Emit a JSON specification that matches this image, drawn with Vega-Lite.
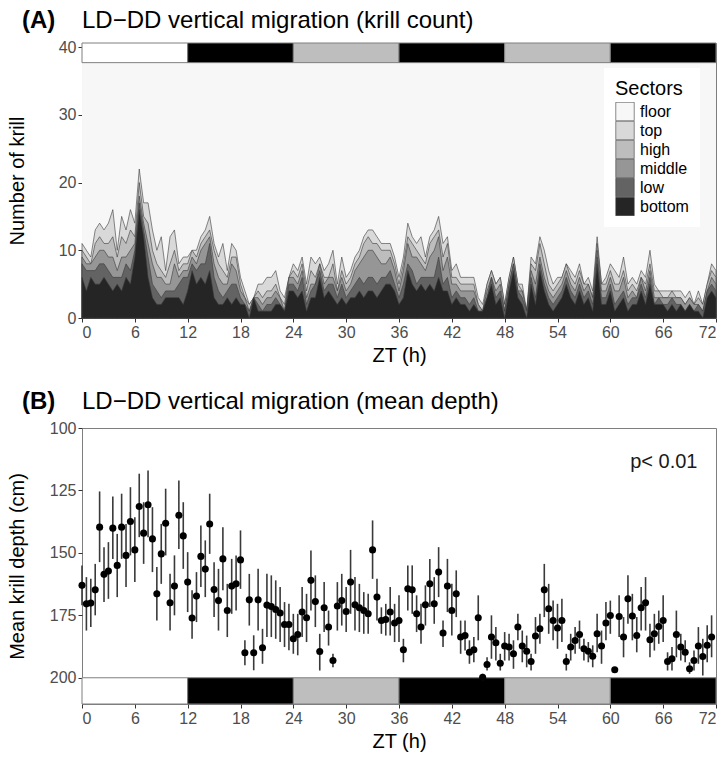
{
  "$schema": "https://vega.github.io/schema/vega-lite/v6.json",
  "background": "white",
  "padding": {"left": 6, "top": 8, "right": 8, "bottom": 4},
  "spacing": 23,
  "config": {
    "font": "Liberation Sans",
    "view": {"stroke": "#7f7f7f", "strokeWidth": 1},
    "axis": {"domain": false, "grid": false, "ticks": true, "tickColor": "#333333", "tickSize": 4, "tickWidth": 1, "labelColor": "#4d4d4d", "labelFont": "Liberation Sans", "labelFontSize": 16, "labelPadding": 2, "titleFont": "Liberation Sans", "titleFontSize": 20, "titleFontWeight": "normal", "titleColor": "#000000", "titlePadding": 5},
    "title": {"font": "Liberation Sans", "fontSize": 24, "fontWeight": "bold", "color": "#000000", "subtitleFont": "Liberation Sans", "subtitleFontSize": 24, "subtitleFontWeight": "normal", "subtitleColor": "#000000", "subtitlePadding": -24, "anchor": "start", "frame": "group", "dx": -60, "offset": 6},
    "legend": {"labelFont": "Liberation Sans", "titleFont": "Liberation Sans"}
  },
  "datasets": {
    "bars": [
      {"a": 0, "b": 12, "p": "L"},
      {"a": 12, "b": 24, "p": "D"},
      {"a": 24, "b": 36, "p": "S"},
      {"a": 36, "b": 48, "p": "D"},
      {"a": 48, "b": 60, "p": "S"},
      {"a": 60, "b": 72, "p": "D"}
    ],
    "count": [
      {"t":0,"B":6,"L":8,"M":9,"H":10,"T":11},{"t":0.5,"B":4,"L":7,"M":8,"H":9,"T":10},{"t":1,"B":6,"L":7,"M":8,"H":8,"T":9},{"t":1.5,"B":5,"L":7,"M":9,"H":11,"T":13},{"t":2,"B":5,"L":8,"M":10,"H":12,"T":14},{"t":2.5,"B":6,"L":8,"M":10,"H":11,"T":13},{"t":3,"B":5,"L":7,"M":9,"H":11,"T":14},{"t":3.5,"B":4,"L":6,"M":9,"H":12,"T":16},{"t":4,"B":5,"L":6,"M":7,"H":9,"T":10},{"t":4.5,"B":4,"L":6,"M":9,"H":12,"T":15},{"t":5,"B":6,"L":8,"M":9,"H":11,"T":13},{"t":5.5,"B":5,"L":7,"M":10,"H":13,"T":16},{"t":6,"B":9,"L":10,"M":11,"H":12,"T":14},{"t":6.5,"B":16,"L":17,"M":18,"H":20,"T":22},{"t":7,"B":12,"L":13,"M":14,"H":15,"T":17},{"t":7.5,"B":6,"L":9,"M":11,"H":14,"T":17},{"t":8,"B":3,"L":5,"M":8,"H":10,"T":13},{"t":8.5,"B":2,"L":4,"M":6,"H":8,"T":10},{"t":9,"B":2,"L":3,"M":6,"H":7,"T":12},{"t":9.5,"B":3,"L":4,"M":5,"H":6,"T":7},{"t":10,"B":3,"L":4,"M":5,"H":8,"T":12},{"t":10.5,"B":3,"L":4,"M":8,"H":10,"T":13},{"t":11,"B":3,"L":5,"M":6,"H":7,"T":8},{"t":11.5,"B":2,"L":6,"M":7,"H":8,"T":9},
      {"t":12,"B":4,"L":6,"M":7,"H":8,"T":9},{"t":12.5,"B":7,"L":8,"M":9,"H":10,"T":10},{"t":13,"B":5,"L":7,"M":8,"H":9,"T":10},{"t":13.5,"B":6,"L":8,"M":10,"H":11,"T":12},{"t":14,"B":5,"L":8,"M":11,"H":12,"T":13},{"t":14.5,"B":7,"L":11,"M":12,"H":13,"T":15},{"t":15,"B":3,"L":6,"M":8,"H":10,"T":11},{"t":15.5,"B":2,"L":4,"M":6,"H":8,"T":9},{"t":16,"B":2,"L":3,"M":5,"H":7,"T":11},{"t":16.5,"B":3,"L":4,"M":5,"H":6,"T":7},{"t":17,"B":2,"L":5,"M":8,"H":9,"T":11},{"t":17.5,"B":3,"L":5,"M":7,"H":9,"T":10},{"t":18,"B":2,"L":3,"M":4,"H":5,"T":6},{"t":18.5,"B":2,"L":2,"M":3,"H":3,"T":4},{"t":19,"B":0,"L":1,"M":1,"H":2,"T":2},{"t":19.5,"B":3,"L":3,"M":3,"H":3,"T":3},{"t":20,"B":1,"L":2,"M":3,"H":4,"T":5},{"t":20.5,"B":1,"L":1,"M":2,"H":3,"T":5},{"t":21,"B":1,"L":2,"M":3,"H":4,"T":6},{"t":21.5,"B":1,"L":2,"M":3,"H":4,"T":6},{"t":22,"B":2,"L":3,"M":4,"H":5,"T":7},{"t":22.5,"B":2,"L":2,"M":3,"H":3,"T":4},{"t":23,"B":1,"L":1,"M":1,"H":2,"T":3},{"t":23.5,"B":4,"L":5,"M":6,"H":6,"T":6},
      {"t":24,"B":4,"L":5,"M":6,"H":7,"T":8},{"t":24.5,"B":3,"L":4,"M":5,"H":6,"T":7},{"t":25,"B":4,"L":6,"M":7,"H":8,"T":9},{"t":25.5,"B":1,"L":2,"M":3,"H":4,"T":5},{"t":26,"B":3,"L":4,"M":5,"H":7,"T":9},{"t":26.5,"B":3,"L":5,"M":5,"H":6,"T":8},{"t":27,"B":6,"L":7,"M":8,"H":8,"T":9},{"t":27.5,"B":3,"L":4,"M":5,"H":6,"T":7},{"t":28,"B":4,"L":5,"M":6,"H":6,"T":8},{"t":28.5,"B":3,"L":5,"M":6,"H":8,"T":10},{"t":29,"B":2,"L":3,"M":4,"H":4,"T":5},{"t":29.5,"B":3,"L":5,"M":6,"H":7,"T":9},{"t":30,"B":2,"L":3,"M":4,"H":5,"T":6},{"t":30.5,"B":3,"L":4,"M":5,"H":6,"T":7},{"t":31,"B":3,"L":5,"M":7,"H":8,"T":9},{"t":31.5,"B":4,"L":6,"M":8,"H":9,"T":10},{"t":32,"B":3,"L":5,"M":9,"H":11,"T":12},{"t":32.5,"B":4,"L":6,"M":10,"H":12,"T":13},{"t":33,"B":4,"L":6,"M":10,"H":11,"T":13},{"t":33.5,"B":3,"L":5,"M":9,"H":11,"T":12},{"t":34,"B":4,"L":6,"M":8,"H":10,"T":11},{"t":34.5,"B":5,"L":6,"M":8,"H":10,"T":11},{"t":35,"B":5,"L":7,"M":9,"H":10,"T":11},{"t":35.5,"B":4,"L":5,"M":7,"H":8,"T":9},
      {"t":36,"B":2,"L":3,"M":4,"H":5,"T":6},{"t":36.5,"B":3,"L":5,"M":7,"H":8,"T":9},{"t":37,"B":7,"L":8,"M":11,"H":12,"T":14},{"t":37.5,"B":5,"L":7,"M":9,"H":11,"T":12},{"t":38,"B":4,"L":5,"M":9,"H":10,"T":11},{"t":38.5,"B":5,"L":6,"M":8,"H":9,"T":12},{"t":39,"B":4,"L":6,"M":7,"H":8,"T":9},{"t":39.5,"B":5,"L":6,"M":9,"H":11,"T":12},{"t":40,"B":4,"L":6,"M":10,"H":12,"T":13},{"t":40.5,"B":6,"L":9,"M":12,"H":13,"T":15},{"t":41,"B":4,"L":5,"M":7,"H":9,"T":11},{"t":41.5,"B":4,"L":6,"M":9,"H":11,"T":12},{"t":42,"B":2,"L":3,"M":5,"H":6,"T":7},{"t":42.5,"B":3,"L":4,"M":5,"H":6,"T":8},{"t":43,"B":2,"L":3,"M":4,"H":5,"T":6},{"t":43.5,"B":2,"L":3,"M":4,"H":5,"T":6},{"t":44,"B":1,"L":2,"M":4,"H":5,"T":6},{"t":44.5,"B":2,"L":3,"M":4,"H":5,"T":6},{"t":45,"B":1,"L":1,"M":2,"H":2,"T":3},{"t":45.5,"B":1,"L":1,"M":1,"H":1,"T":2},{"t":46,"B":3,"L":3,"M":4,"H":5,"T":5},{"t":46.5,"B":5,"L":6,"M":6,"H":7,"T":7},{"t":47,"B":2,"L":3,"M":4,"H":5,"T":5},{"t":47.5,"B":3,"L":4,"M":5,"H":6,"T":6},
      {"t":48,"B":0,"L":1,"M":1,"H":2,"T":2},{"t":48.5,"B":4,"L":5,"M":5,"H":6,"T":6},{"t":49,"B":7,"L":8,"M":8,"H":9,"T":9},{"t":49.5,"B":3,"L":4,"M":4,"H":5,"T":5},{"t":50,"B":2,"L":3,"M":4,"H":4,"T":5},{"t":50.5,"B":0,"L":1,"M":1,"H":1,"T":1},{"t":51,"B":5,"L":6,"M":7,"H":8,"T":9},{"t":51.5,"B":2,"L":3,"M":5,"H":7,"T":8},{"t":52,"B":7,"L":8,"M":9,"H":11,"T":12},{"t":52.5,"B":4,"L":5,"M":6,"H":8,"T":10},{"t":53,"B":2,"L":3,"M":4,"H":5,"T":7},{"t":53.5,"B":1,"L":2,"M":3,"H":4,"T":5},{"t":54,"B":2,"L":3,"M":4,"H":5,"T":6},{"t":54.5,"B":3,"L":4,"M":5,"H":6,"T":6},{"t":55,"B":5,"L":6,"M":7,"H":8,"T":8},{"t":55.5,"B":3,"L":4,"M":5,"H":6,"T":7},{"t":56,"B":2,"L":3,"M":4,"H":5,"T":6},{"t":56.5,"B":4,"L":5,"M":6,"H":7,"T":8},{"t":57,"B":2,"L":3,"M":4,"H":5,"T":5},{"t":57.5,"B":3,"L":4,"M":5,"H":5,"T":6},{"t":58,"B":1,"L":2,"M":3,"H":3,"T":4},{"t":58.5,"B":8,"L":9,"M":10,"H":11,"T":12},{"t":59,"B":2,"L":3,"M":4,"H":5,"T":5},{"t":59.5,"B":2,"L":3,"M":4,"H":5,"T":6},
      {"t":60,"B":4,"L":5,"M":6,"H":7,"T":8},{"t":60.5,"B":1,"L":2,"M":4,"H":5,"T":7},{"t":61,"B":2,"L":3,"M":4,"H":5,"T":6},{"t":61.5,"B":3,"L":4,"M":6,"H":7,"T":9},{"t":62,"B":1,"L":2,"M":3,"H":4,"T":5},{"t":62.5,"B":2,"L":3,"M":4,"H":5,"T":6},{"t":63,"B":2,"L":3,"M":3,"H":4,"T":5},{"t":63.5,"B":4,"L":5,"M":6,"H":6,"T":7},{"t":64,"B":2,"L":3,"M":4,"H":5,"T":6},{"t":64.5,"B":5,"L":6,"M":7,"H":8,"T":10},{"t":65,"B":2,"L":2,"M":3,"H":4,"T":5},{"t":65.5,"B":2,"L":3,"M":3,"H":4,"T":4},{"t":66,"B":2,"L":2,"M":3,"H":3,"T":4},{"t":66.5,"B":1,"L":2,"M":3,"H":3,"T":4},{"t":67,"B":2,"L":3,"M":3,"H":4,"T":4},{"t":67.5,"B":1,"L":2,"M":3,"H":3,"T":4},{"t":68,"B":2,"L":2,"M":3,"H":3,"T":4},{"t":68.5,"B":1,"L":1,"M":2,"H":2,"T":3},{"t":69,"B":2,"L":2,"M":3,"H":3,"T":4},{"t":69.5,"B":1,"L":1,"M":2,"H":2,"T":2},{"t":70,"B":1,"L":2,"M":2,"H":3,"T":4},{"t":70.5,"B":0,"L":1,"M":1,"H":2,"T":2},{"t":71,"B":3,"L":4,"M":4,"H":5,"T":5},{"t":71.5,"B":4,"L":5,"M":6,"H":7,"T":8},{"t":72,"B":3,"L":4,"M":5,"H":6,"T":7}
    ],
    "depth": [
      {"t":0,"d":163,"lo":155,"hi":171},{"t":0.5,"d":170.4,"lo":159.7,"hi":181.1},{"t":1,"d":170.1,"lo":160.4,"hi":179.7},{"t":1.5,"d":164.8,"lo":154.4,"hi":175},{"t":2,"d":139.7,"lo":125.4,"hi":153.7},{"t":2.5,"d":158.6,"lo":147.7,"hi":169.7},{"t":3,"d":157.3,"lo":145.7,"hi":168.4},{"t":3.5,"d":140.1,"lo":127.4,"hi":152.4},{"t":4,"d":155,"lo":142.4,"hi":167.7},{"t":4.5,"d":139.7,"lo":126.3,"hi":152.4},{"t":5,"d":151,"lo":138.4,"hi":163.7},{"t":5.5,"d":137.4,"lo":123.7,"hi":151},{"t":6,"d":148.8,"lo":135.7,"hi":161.7},{"t":6.5,"d":131.4,"lo":118.3,"hi":143.7},{"t":7,"d":142.1,"lo":129.7,"hi":154.4},{"t":7.5,"d":130.7,"lo":117,"hi":143.7},{"t":8,"d":144.4,"lo":131.7,"hi":157.7},{"t":8.5,"d":166.4,"lo":155.7,"hi":177.1},{"t":9,"d":150.4,"lo":138.4,"hi":162.4},{"t":9.5,"d":138.1,"lo":124.3,"hi":151},{"t":10,"d":170,"lo":158.4,"hi":181.1},{"t":10.5,"d":163.3,"lo":151,"hi":175},{"t":11,"d":134.9,"lo":121,"hi":148.4},{"t":11.5,"d":143.2,"lo":129.7,"hi":156.4},
      {"t":12,"d":161.7,"lo":149.7,"hi":173.7},{"t":12.5,"d":176.1,"lo":165,"hi":184.4},{"t":13,"d":167.3,"lo":157.7,"hi":177.7},{"t":13.5,"d":151.4,"lo":139,"hi":163.7},{"t":14,"d":156.5,"lo":145,"hi":167.7},{"t":14.5,"d":138.4,"lo":126.3,"hi":150.4},{"t":15,"d":164.7,"lo":153.7,"hi":175.7},{"t":15.5,"d":169.1,"lo":156.4,"hi":181.1},{"t":16,"d":152.4,"lo":139.7,"hi":165},{"t":16.5,"d":173.1,"lo":162.4,"hi":183.7},{"t":17,"d":163.3,"lo":152.4,"hi":174.4},{"t":17.5,"d":162.4,"lo":151,"hi":173.1},{"t":18,"d":152.8,"lo":141,"hi":164.4},{"t":18.5,"d":190,"lo":185,"hi":195},{"t":19,"d":168.8,"lo":158.4,"hi":179.1},{"t":19.5,"d":190,"lo":183,"hi":197},{"t":20,"d":168.8,"lo":156.4,"hi":181.1},{"t":20.5,"d":188,"lo":180.4,"hi":194.4},{"t":21,"d":170.9,"lo":158.4,"hi":183.7},{"t":21.5,"d":171.5,"lo":159,"hi":183.7},{"t":22,"d":172.7,"lo":161,"hi":184.4},{"t":22.5,"d":174.1,"lo":163.7,"hi":185.7},{"t":23,"d":178.7,"lo":169.7,"hi":187.7},{"t":23.5,"d":178.7,"lo":170.4,"hi":189},
      {"t":24,"d":184.4,"lo":174.4,"hi":190.4},{"t":24.5,"d":182.7,"lo":174.4,"hi":191},{"t":25,"d":173.7,"lo":163.7,"hi":183.7},{"t":25.5,"d":176,"lo":166.4,"hi":185.7},{"t":26,"d":161,"lo":149,"hi":173.1},{"t":26.5,"d":169.5,"lo":159,"hi":179.7},{"t":27,"d":189.5,"lo":182.4,"hi":197.1},{"t":27.5,"d":172,"lo":161.7,"hi":181.7},{"t":28,"d":179.7,"lo":173.1,"hi":187.1},{"t":28.5,"d":193.1,"lo":190.4,"hi":195.8},{"t":29,"d":171.3,"lo":161.7,"hi":181.1},{"t":29.5,"d":169.1,"lo":158.4,"hi":179.1},{"t":30,"d":173.5,"lo":163.7,"hi":181.7},{"t":30.5,"d":161.7,"lo":148.8,"hi":174.4},{"t":31,"d":170.8,"lo":159.7,"hi":181.1},{"t":31.5,"d":172,"lo":162.4,"hi":181.7},{"t":32,"d":173.1,"lo":165.7,"hi":182.4},{"t":32.5,"d":174.4,"lo":166.4,"hi":182.4},{"t":33,"d":148.8,"lo":137,"hi":160.4},{"t":33.5,"d":167.7,"lo":160.4,"hi":177.1},{"t":34,"d":177.1,"lo":171.8,"hi":182.4},{"t":34.5,"d":176.7,"lo":170.4,"hi":183.1},{"t":35,"d":173.7,"lo":163.7,"hi":183.1},{"t":35.5,"d":178.1,"lo":170.4,"hi":185.7},
      {"t":36,"d":177.1,"lo":167,"hi":185.7},{"t":36.5,"d":188.8,"lo":184.4,"hi":193.8},{"t":37,"d":164.4,"lo":155,"hi":173.1},{"t":37.5,"d":164.8,"lo":155,"hi":174.4},{"t":38,"d":174.4,"lo":167,"hi":181.7},{"t":38.5,"d":179.7,"lo":170.4,"hi":186.4},{"t":39,"d":170.8,"lo":163,"hi":179.1},{"t":39.5,"d":162.4,"lo":152.4,"hi":171.7},{"t":40,"d":170.4,"lo":159.7,"hi":178.4},{"t":40.5,"d":157.7,"lo":147.7,"hi":167.7},{"t":41,"d":182.1,"lo":177.1,"hi":187.7},{"t":41.5,"d":163.3,"lo":152.4,"hi":173.7},{"t":42,"d":173.1,"lo":162.4,"hi":183.1},{"t":42.5,"d":166.4,"lo":157,"hi":175.7},{"t":43,"d":183.7,"lo":177.1,"hi":190.4},{"t":43.5,"d":183.1,"lo":177.1,"hi":189.1},{"t":44,"d":189.8,"lo":185,"hi":194.4},{"t":44.5,"d":188.8,"lo":183.7,"hi":193.8},{"t":45,"d":176,"lo":167,"hi":185},{"t":45.5,"d":199.8,"lo":198.4,"hi":201.1},{"t":46,"d":194.7,"lo":191.8,"hi":197.1},{"t":46.5,"d":183.7,"lo":175,"hi":192.4},{"t":47,"d":186,"lo":179.7,"hi":193.1},{"t":47.5,"d":194.2,"lo":190.4,"hi":197.1},
      {"t":48,"d":187.3,"lo":181.7,"hi":193.1},{"t":48.5,"d":187.7,"lo":182.4,"hi":193.1},{"t":49,"d":190.4,"lo":185,"hi":196.4},{"t":49.5,"d":179.7,"lo":174.4,"hi":185},{"t":50,"d":187.3,"lo":181.1,"hi":193.8},{"t":50.5,"d":189.4,"lo":183.1,"hi":195.8},{"t":51,"d":193.5,"lo":190.4,"hi":197.1},{"t":51.5,"d":183.3,"lo":175.7,"hi":190.4},{"t":52,"d":180.4,"lo":174.4,"hi":186.4},{"t":52.5,"d":164.8,"lo":154.4,"hi":175.7},{"t":53,"d":172.4,"lo":162.4,"hi":182.4},{"t":53.5,"d":177.1,"lo":169.1,"hi":185},{"t":54,"d":180.1,"lo":170.4,"hi":188.4},{"t":54.5,"d":177.1,"lo":168.4,"hi":185.7},{"t":55,"d":193.5,"lo":190.4,"hi":197.1},{"t":55.5,"d":187.7,"lo":182.4,"hi":193.1},{"t":56,"d":185.1,"lo":179.7,"hi":190.4},{"t":56.5,"d":182.7,"lo":177.1,"hi":188.4},{"t":57,"d":188.4,"lo":184.4,"hi":193.1},{"t":57.5,"d":189.4,"lo":185.7,"hi":193.8},{"t":58,"d":191.4,"lo":187,"hi":195.8},{"t":58.5,"d":182.4,"lo":174.4,"hi":189.8},{"t":59,"d":187.3,"lo":181.1,"hi":194.4},{"t":59.5,"d":178.1,"lo":169.7,"hi":185},
      {"t":60,"d":175.1,"lo":169.1,"hi":182.4},{"t":60.5,"d":196.8,"lo":196,"hi":197.6},{"t":61,"d":175.5,"lo":167,"hi":183.7},{"t":61.5,"d":183.7,"lo":175.7,"hi":191.8},{"t":62,"d":168.4,"lo":159,"hi":178.4},{"t":62.5,"d":175.3,"lo":166.4,"hi":185},{"t":63,"d":183.1,"lo":175.7,"hi":189.8},{"t":63.5,"d":172,"lo":163.7,"hi":181.1},{"t":64,"d":170,"lo":159.7,"hi":181.1},{"t":64.5,"d":184.8,"lo":178.4,"hi":191.8},{"t":65,"d":182.4,"lo":174.4,"hi":189.1},{"t":65.5,"d":179.5,"lo":173.1,"hi":186.4},{"t":66,"d":177.1,"lo":167,"hi":185.7},{"t":66.5,"d":193.5,"lo":189.8,"hi":197.1},{"t":67,"d":192.4,"lo":187.7,"hi":197.1},{"t":67.5,"d":182.7,"lo":173.1,"hi":191.8},{"t":68,"d":187.7,"lo":182.4,"hi":193.1},{"t":68.5,"d":189.8,"lo":185,"hi":193.8},{"t":69,"d":196.4,"lo":193.8,"hi":198.4},{"t":69.5,"d":193.1,"lo":189.1,"hi":197.1},{"t":70,"d":187.3,"lo":179.7,"hi":194.4},{"t":70.5,"d":191.5,"lo":184.4,"hi":199.1},{"t":71,"d":187,"lo":179,"hi":193.8},{"t":71.5,"d":183.7,"lo":175,"hi":191.8}
    ]
  },
  "vconcat": [
    {
      "width": 634,
      "height": 275,
      "title": {"text": "(A)", "subtitle": "\u200b\u00a0\u00a0\u00a0\u00a0\u00a0\u00a0\u00a0\u00a0\u00a0LD\u2212DD vertical migration (krill count)"},
      "data": {"name": "count"},
      "encoding": {
        "x": {"field": "t", "type": "quantitative", "title": "ZT (h)", "scale": {"domain": [0, 72], "nice": false, "zero": false}, "axis": {"values": [0, 6, 12, 18, 24, 30, 36, 42, 48, 54, 60, 66, 72]}}
      },
      "layer": [
        {
          "mark": {"type": "area", "stroke": null},
          "encoding": {
            "y": {"datum": 40, "type": "quantitative", "title": "Number of krill", "scale": {"domain": [0, 40.6], "nice": false, "zero": false}, "axis": {"values": [0, 10, 20, 30, 40], "titleX": -54.5}},
            "y2": {"datum": 0},
            "color": {"datum": "floor", "scale": {"domain": ["floor", "top", "high", "middle", "low", "bottom"], "range": ["#f7f7f7", "#d9d9d9", "#bdbdbd", "#969696", "#636363", "#252525"]}, "legend": {"title": "Sectors", "orient": "none", "legendX": 522, "legendY": 25, "fillColor": "white", "padding": 11, "titleFontSize": 20, "titleFontWeight": "normal", "titleColor": "#000000", "titlePadding": 3, "labelFontSize": 16, "labelColor": "#000000", "labelOffset": 5, "symbolType": "square", "symbolSize": 340, "symbolStrokeColor": "#333333", "symbolStrokeWidth": 0.6, "symbolOpacity": 1, "rowPadding": 0, "clipHeight": 19}}
          }
        },
        {
          "mark": {"type": "area", "stroke": "#3a3a3a", "strokeWidth": 0.6},
          "encoding": {"y": {"field": "T", "type": "quantitative", "title": "Number of krill"}, "y2": {"datum": 0}, "color": {"datum": "top"}}
        },
        {
          "mark": {"type": "area", "stroke": "#3a3a3a", "strokeWidth": 0.6},
          "encoding": {"y": {"field": "H", "type": "quantitative", "title": "Number of krill"}, "y2": {"datum": 0}, "color": {"datum": "high"}}
        },
        {
          "mark": {"type": "area", "stroke": "#3a3a3a", "strokeWidth": 0.6},
          "encoding": {"y": {"field": "M", "type": "quantitative", "title": "Number of krill"}, "y2": {"datum": 0}, "color": {"datum": "middle"}}
        },
        {
          "mark": {"type": "area", "stroke": "#3a3a3a", "strokeWidth": 0.6},
          "encoding": {"y": {"field": "L", "type": "quantitative", "title": "Number of krill"}, "y2": {"datum": 0}, "color": {"datum": "low"}}
        },
        {
          "mark": {"type": "area", "stroke": "#3a3a3a", "strokeWidth": 0.6},
          "encoding": {"y": {"field": "B", "type": "quantitative", "title": "Number of krill"}, "y2": {"datum": 0}, "color": {"datum": "bottom"}}
        },
        {
          "data": {"name": "bars"},
          "mark": {"type": "rect", "stroke": "#7f7f7f", "strokeWidth": 1},
          "encoding": {
            "x": {"field": "a", "type": "quantitative", "title": "ZT (h)"},
            "x2": {"field": "b"},
            "y": {"datum": 37.7, "type": "quantitative", "title": "Number of krill"},
            "y2": {"datum": 40.6},
            "fill": {"field": "p", "type": "nominal", "scale": {"domain": ["L", "D", "S"], "range": ["#ffffff", "#000000", "#bebebe"]}, "legend": null}
          }
        }
      ]
    },
    {
      "width": 634,
      "height": 276,
      "title": {"text": "(B)", "subtitle": "\u200b\u00a0\u00a0\u00a0\u00a0\u00a0\u00a0\u00a0\u00a0\u00a0LD\u2212DD vertical migration (mean depth)"},
      "data": {"name": "depth"},
      "layer": [
        {
          "data": {"name": "bars"},
          "mark": {"type": "rect", "stroke": "#7f7f7f", "strokeWidth": 1},
          "encoding": {
            "x": {"field": "a", "type": "quantitative", "title": "ZT (h)", "scale": {"domain": [0, 72], "nice": false, "zero": false}, "axis": {"values": [0, 6, 12, 18, 24, 30, 36, 42, 48, 54, 60, 66, 72]}},
            "x2": {"field": "b"},
            "y": {"datum": 200, "type": "quantitative", "title": "Mean krill depth (cm)", "scale": {"domain": [100, 210.5], "reverse": true, "nice": false, "zero": false}, "axis": {"values": [100, 125, 150, 175, 200], "titleX": -54.5}},
            "y2": {"datum": 210.5},
            "fill": {"field": "p", "type": "nominal", "scale": {"domain": ["L", "D", "S"], "range": ["#ffffff", "#000000", "#bebebe"]}, "legend": null}
          }
        },
        {
          "mark": {"type": "rule", "color": "#3a3a3a", "strokeWidth": 1.6},
          "encoding": {"x": {"field": "t", "type": "quantitative", "title": "ZT (h)"}, "y": {"field": "lo", "type": "quantitative", "title": "Mean krill depth (cm)"}, "y2": {"field": "hi"}}
        },
        {
          "mark": {"type": "point", "filled": true, "shape": "circle", "color": "#000000", "opacity": 1, "size": 50},
          "encoding": {"x": {"field": "t", "type": "quantitative", "title": "ZT (h)"}, "y": {"field": "d", "type": "quantitative", "title": "Mean krill depth (cm)"}}
        },
        {
          "data": {"values": [{"label": "p< 0.01"}]},
          "mark": {"type": "text", "align": "right", "baseline": "middle", "fontSize": 20, "fill": "#1a1a1a", "font": "Liberation Sans"},
          "encoding": {"x": {"datum": 69.9, "type": "quantitative"}, "y": {"datum": 113.6, "type": "quantitative"}, "text": {"field": "label", "type": "nominal"}}
        }
      ]
    }
  ]
}
